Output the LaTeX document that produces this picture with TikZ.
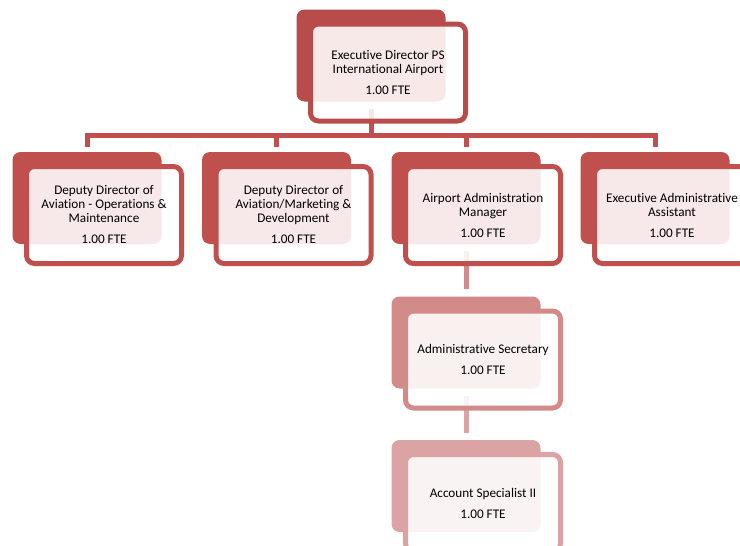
\documentclass[tikz,border=0pt]{standalone}
\usepackage{fontspec}
\setmainfont{Carlito}[Ligatures={NoCommon}]
\usetikzlibrary{calc}

\definecolor{lvlA}{HTML}{B84C4A}
\definecolor{lvlB}{HTML}{C0504D}
\definecolor{lvlC}{HTML}{D38B8A}
\definecolor{lvlD}{HTML}{DBA3A3}

\tikzset{
  backbox/.style={rectangle, rounded corners=8pt, fill=#1, draw=none,
    minimum width=149pt, minimum height=92pt, inner sep=0pt},
  framebox/.style={rectangle, rounded corners=8pt, draw=#1, line width=5pt,
    fill=white, fill opacity=0.88, text opacity=1,
    minimum width=155pt, minimum height=97pt, inner sep=0pt,
    align=center, font=\fontsize{13.2}{14}\selectfont, text=black},
  link/.style={draw=#1, line width=5pt},
}

\begin{document}
\begin{tikzpicture}[x=1pt, y=-1pt]
  \useasboundingbox (0,0) rectangle (740,546);
  \clip (0,0) rectangle (740,546);

  % junction of the horizontal bus under the top box
  \coordinate (bus) at (371,135.5);

  % back plates
  \node[backbox=lvlA] (b0) at (371,55.5) {};
  \node[backbox=lvlB] (b1) at (87,198) {};
  \node[backbox=lvlB] (b2) at (276.5,198) {};
  \node[backbox=lvlB] (b3) at (466,198) {};
  \node[backbox=lvlB] (b4) at (655,198) {};
  \node[backbox=lvlC] (b5) at (466,342.5) {};
  \node[backbox=lvlD] (b6) at (466,486) {};

  % connectors (under the translucent frames)
  \path[link=lvlB] ($(b0.south)+(0,7)$) -- (bus) -| ($(b1.north)+(0,-5)$);
  \path[link=lvlB] (bus) -| ($(b2.north)+(0,-5)$);
  \path[link=lvlB] (bus) -| ($(b3.north)+(0,-5)$);
  \path[link=lvlB] (bus) -| ($(b4.north)+(0,-5)$);
  \path[link=lvlC] ($(b3.south)+(0,7)$) -- ($(b5.north)+(0,-7)$);
  \path[link=lvlD] ($(b5.south)+(0,7)$) -- ($(b6.north)+(0,-7)$);

  % framed text boxes
  \node[framebox=lvlA] (f0) at ($(b0)+(17,17)$)
    {Executive Director PS\\International Airport\\[7pt]1.00 FTE};
  \node[framebox=lvlB] (f1) at ($(b1)+(17,17)$)
    {Deputy Director of\\Aviation - Operations \&\\Maintenance\\[7pt]1.00 FTE};
  \node[framebox=lvlB] (f2) at ($(b2)+(17,17)$)
    {Deputy Director of\\Aviation/Marketing \&\\Development\\[7pt]1.00 FTE};
  \node[framebox=lvlB] (f3) at ($(b3)+(17,17)$)
    {Airport Administration\\Manager\\[7pt]1.00 FTE};
  \node[framebox=lvlB] (f4) at ($(b4)+(17,17)$)
    {Executive Administrative\\Assistant\\[7pt]1.00 FTE};
  \node[framebox=lvlC] (f5) at ($(b5)+(17,17)$)
    {Administrative Secretary\\[7pt]1.00 FTE};
  \node[framebox=lvlD] (f6) at ($(b6)+(17,17)$)
    {Account Specialist II\\[7pt]1.00 FTE};
\end{tikzpicture}
\end{document}
